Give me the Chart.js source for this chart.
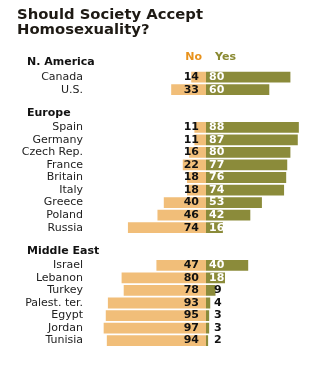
<!DOCTYPE html>
<html>
<head>
<meta charset="utf-8">
<script src="https://cdn.jsdelivr.net/npm/chart.js@4"></script>
<style>
  body { margin: 0; background: #fff; }
</style>
</head>
<body>
<canvas id="acceptChart" width="334" height="371"></canvas>
<script>
// rows of the chart, section headers and blank spacer rows included
var labels = ['N. America', 'Canada', 'U.S.', '',
  'Europe', 'Spain', 'Germany', 'Czech Rep.', 'France', 'Britain', 'Italy', 'Greece', 'Poland', 'Russia', '',
  'Middle East', 'Israel', 'Lebanon', 'Turkey', 'Palest. ter.', 'Egypt', 'Jordan', 'Tunisia'];
var headers = ['N. America', 'Europe', 'Middle East'];
var noValues = [null, 14, 33, null,
  null, 11, 11, 16, 22, 18, 18, 40, 46, 74, null,
  null, 47, 80, 78, 93, 95, 97, 94];
var yesValues = [null, 80, 60, null,
  null, 88, 87, 80, 77, 76, 74, 53, 42, 16, null,
  null, 40, 18, 9, 4, 3, 3, 2];
var titleLines = ['Should Society Accept', 'Homosexuality?'];

var FONT = "'DejaVu Sans', Verdana, sans-serif";
Chart.defaults.font.family = FONT;

// title, section headers, No/Yes key and the value labels
var textPlugin = {
  id: 'textPlugin',
  afterDatasetsDraw: function (chart) {
    var c = chart.ctx;
    var xs = chart.scales.x;
    var ys = chart.scales.y;
    var zero = xs.getPixelForValue(0);
    c.save();

    c.fillStyle = '#1e1a14';
    c.font = 'bold 14.8px ' + FONT;
    c.textAlign = 'left';
    c.textBaseline = 'alphabetic';
    c.fillText(titleLines[0], 17, 18.5);
    c.fillText(titleLines[1], 17, 34.3);

    c.font = 'bold 11px ' + FONT;
    c.textAlign = 'right';
    c.fillStyle = '#e8921c';
    c.fillText('No', zero - 4, 60);
    c.textAlign = 'left';
    c.fillStyle = '#8a8a32';
    c.fillText('Yes', zero + 9, 60);

    c.textBaseline = 'middle';
    labels.forEach(function (lab, i) {
      var y = ys.getPixelForValue(i);
      if (headers.indexOf(lab) >= 0) {
        c.font = 'bold 11px ' + FONT;
        c.fillStyle = '#111';
        c.textAlign = 'left';
        c.fillText(lab, 27, y - 2);
        return;
      }
      if (noValues[i] == null) return;
      c.font = 'bold 11px ' + FONT;
      c.fillStyle = '#111';
      c.textAlign = 'right';
      c.fillText(noValues[i], zero - 7, y);
      c.textAlign = 'left';
      if (yesValues[i] < 10) {
        c.fillStyle = '#111';
        c.fillText(yesValues[i], zero + 8, y);
      } else {
        c.fillStyle = '#fff';
        c.fillText(yesValues[i], zero + 3, y);
      }
    });
    c.restore();
  }
};

var ctx = document.getElementById('acceptChart').getContext('2d');
var acceptChart = new Chart(ctx, {
  type: 'bar',
  data: {
    labels: labels,
    datasets: [{
      label: 'No',
      data: noValues.map(function (v) { return v == null ? null : -v; }),
      backgroundColor: '#f1be79',
      barPercentage: 0.86,
      categoryPercentage: 1
    }, {
      label: 'Yes',
      data: yesValues,
      backgroundColor: '#8b8b3a',
      barPercentage: 0.86,
      categoryPercentage: 1
    }]
  },
  options: {
    indexAxis: 'y',
    responsive: false,
    animation: false,
    layout: { padding: { top: 58.3, bottom: 3.8, left: 0, right: 22.5 } },
    plugins: {
      legend: { display: false },
      tooltip: { enabled: false }
    },
    scales: {
      x: {
        stacked: true,
        display: false,
        min: -100,
        max: 100
      },
      y: {
        stacked: true,
        grid: { display: false, drawTicks: false },
        border: { display: false },
        afterFit: function (scale) { scale.width = 100.5; },
        ticks: {
          autoSkip: false,
          padding: 17.5,
          color: '#222',
          font: { size: 11 },
          callback: function (val, i) {
            return headers.indexOf(labels[i]) >= 0 ? '' : labels[i];
          }
        }
      }
    }
  },
  plugins: [textPlugin]
});
</script>
</body>
</html>
